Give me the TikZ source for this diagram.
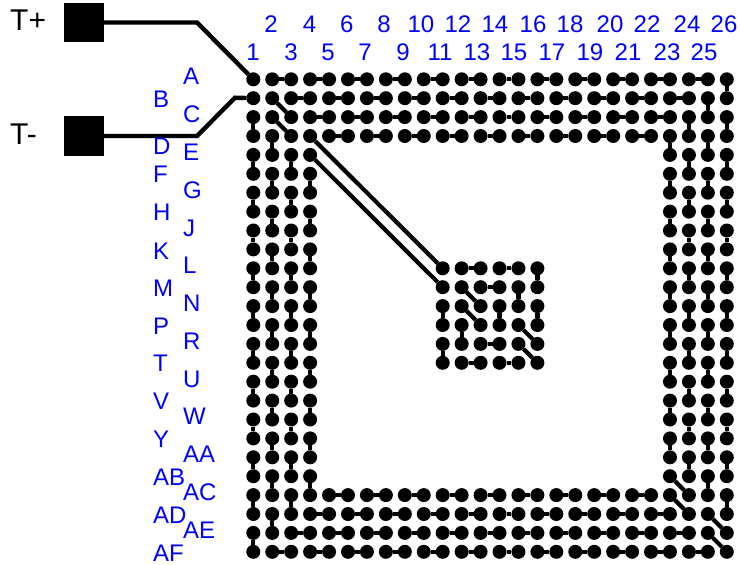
\documentclass[tikz,border=0pt]{standalone}
\usepackage{fontspec}
\setmainfont{Liberation Sans}
\usetikzlibrary{positioning}
\tikzset{pad/.style={circle,
                        fill=black,
                        inner sep=0pt,
                        outer sep=0pt,
                        minimum size=14pt
                        },
        bigpad/.style={rectangle,
                        fill=black,
                        inner sep=0pt,
                        outer sep=0pt,
                        minimum size=39.5pt
        },
        link/.style={black,line width=4.2pt},
        wire/.style={black,line width=4.4pt,line join=miter},
        pinlabel/.style={blue,inner sep=0pt,font=\fontsize{24}{26}\selectfont},
        termlabel/.style={black,inner sep=0pt,anchor=base west,font=\fontsize{30}{32}\selectfont},
}
\newcommand{\pad}[2]{\node[pad] (p-#1-#2) at ({253.3+18.94*(#1-1)},{79.3+18.9*(#2-1)}) {};}

\begin{document}
\begin{tikzpicture}
    [x=1pt,y=-1pt]
    \useasboundingbox (0,0) rectangle (740,565);

    % OUTER RING OF PADS
    \foreach \c in {1,...,26} {
        \foreach \r in {1,...,26} {
            \ifnum\c<5 \pad{\c}{\r}\else
            \ifnum\c>22 \pad{\c}{\r}\else
            \ifnum\r<5 \pad{\c}{\r}\else
            \ifnum\r>22 \pad{\c}{\r}\fi\fi\fi\fi
        }
    }

    % INNER BLOCK OF PADS
    \foreach \c in {11,...,16} {
        \foreach \r in {11,...,16} {
            \pad{\c}{\r}
        }
    }

    % ROW LINKS
    \foreach \r/\a/\b in {1/2/24, 2/3/23, 3/4/22, 4/5/21, 23/5/21, 24/4/22, 25/3/23, 26/2/24} {
        \pgfmathtruncatemacro{\nxt}{\a+2}
        \foreach \c in {\a,\nxt,...,\b} {
            \pgfmathtruncatemacro{\e}{\c+1}
            \draw[link] (p-\c-\r) -- (p-\e-\r);
        }
    }

    % COLUMN LINKS
    \foreach \c/\a/\b in {1/3/25, 2/4/24, 3/5/23, 4/6/22, 23/4/20, 24/3/21, 25/2/22, 26/1/23} {
        \pgfmathtruncatemacro{\nxt}{\a+2}
        \foreach \r in {\a,\nxt,...,\b} {
            \pgfmathtruncatemacro{\e}{\r+1}
            \draw[link] (p-\c-\r) -- (p-\c-\e);
        }
    }

    % INNER BLOCK LINKS
    \foreach \a/\b/\c/\d in {12/11/13/11, 14/11/15/11, 13/12/14/12, 13/15/14/15, 12/16/13/16, 14/16/15/16,
                             16/11/16/12, 16/13/16/14, 15/12/15/13, 11/13/11/14, 11/15/11/16, 14/13/14/14, 12/14/12/15} {
        \draw[link] (p-\a-\b) -- (p-\c-\d);
    }

    % DIAGONAL LINKS
    \foreach \a/\b/\c/\d in {2/2/3/3, 2/3/3/4, 4/4/11/11, 4/5/11/12, 23/22/24/23, 23/23/24/24,
                             25/24/26/25, 25/25/26/26, 12/12/13/13, 12/13/13/14, 15/14/16/15, 15/15/16/16} {
        \draw[link] (p-\a-\b) -- (p-\c-\d);
    }

    % TERMINALS
    \node[bigpad] (tplus) at (84.2,22.5) {};
    \node[bigpad] (tminus) at (84.2,136) {};
    \node[termlabel] (tplusLabel) at (10,30) {T+};
    \node[termlabel] (tminusLabel) at (10,144) {T-};
    \coordinate (bendPlus) at (197,22.5);
    \coordinate (bendMinusA) at (197,136);
    \coordinate (bendMinusB) at (235,97.7);

    \draw[wire] (tplus) -- (bendPlus) -- (p-1-1);
    \draw[wire] (tminus) -- (bendMinusA) -- (bendMinusB) -- (p-1-2);

    % COLUMN NUMBERS
    \foreach \n/\x in {1/253, 3/291, 5/328, 7/365, 9/403, 11/440, 13/477, 15/514, 17/552,
                       19/590, 21/628, 23/667, 25/704} {
        \node[pinlabel,anchor=base] (col\n) at (\x,60) {\n};
    }
    \foreach \n/\x in {2/271, 4/309.6, 6/346.7, 8/384, 10/421, 12/458, 14/495, 16/533,
                       18/570, 20/610, 22/647, 24/687, 26/724} {
        \node[pinlabel,anchor=base] (col\n) at (\x,32) {\n};
    }

    % ROW LETTERS
    \foreach \l/\y in {A/84, C/122, E/160, G/198, J/236, L/273, N/311, R/349, U/387, W/424, AA/462, AC/500, AE/538} {
        \node[pinlabel,anchor=base west] (row\l) at (183,\y) {\l};
    }
    \foreach \l/\y in {B/107, D/154, F/182, H/220, K/259, M/296, P/334, T/371, V/409, Y/447, AB/485, AD/523, AF/561} {
        \node[pinlabel,anchor=base west] (row\l) at (153,\y) {\l};
    }
\end{tikzpicture}
\end{document}
